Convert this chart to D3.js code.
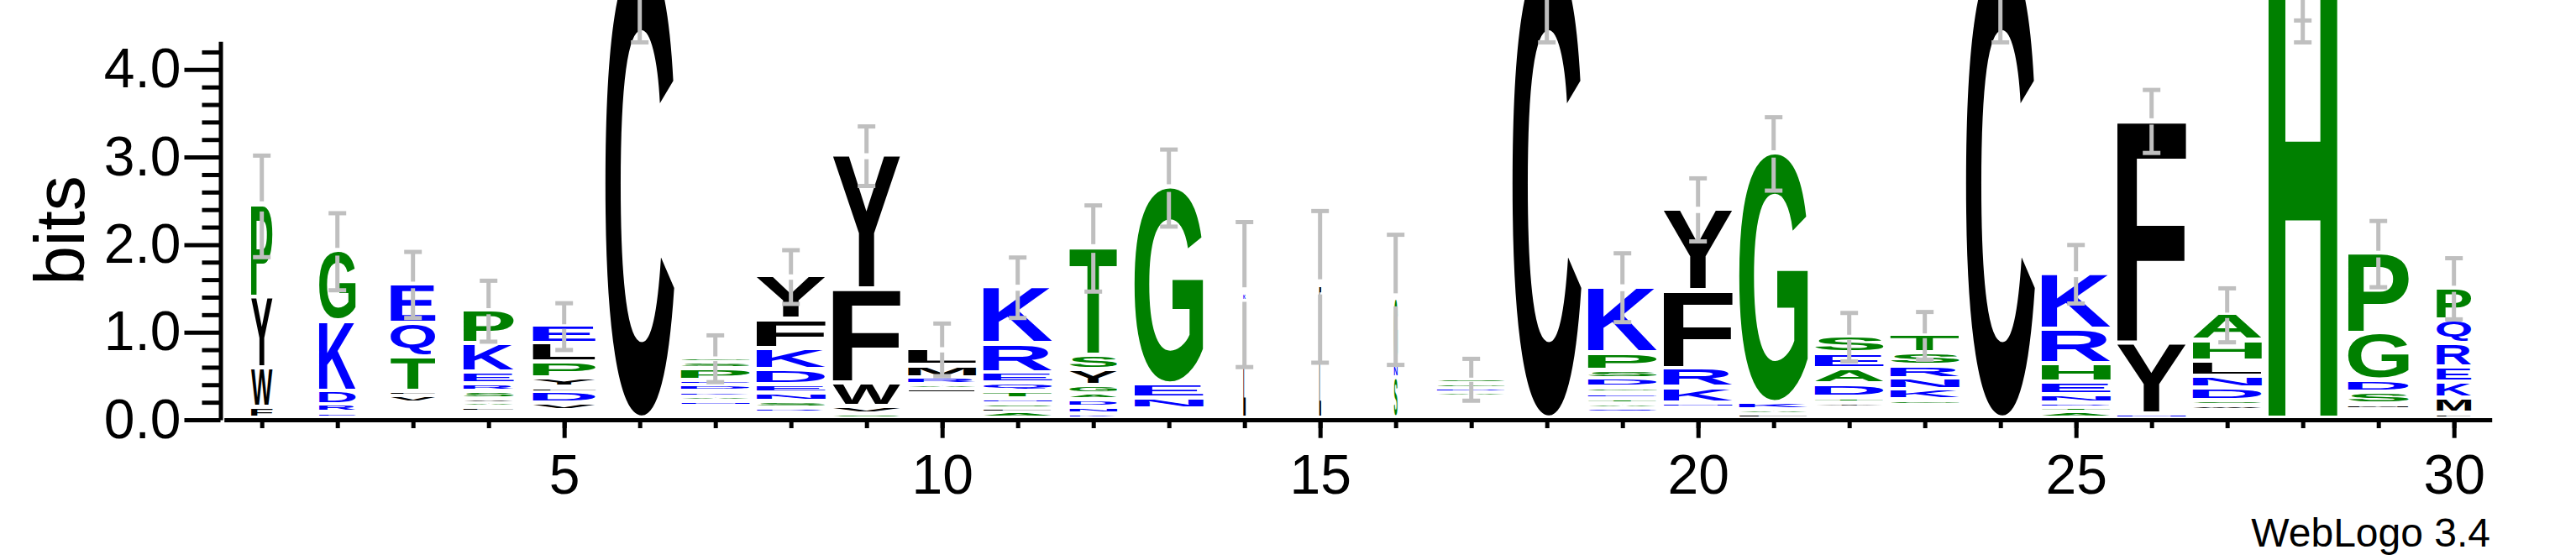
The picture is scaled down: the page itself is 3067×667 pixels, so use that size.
<!DOCTYPE html>
<html>
<head>
<meta charset="utf-8">
<script src="https://cdn.jsdelivr.net/npm/d3@7"></script>
<style>
html, body { margin: 0; padding: 0; background: #ffffff; }
svg { display: block; }
</style>
</head>
<body>
<svg id="chart" width="3067" height="667"></svg>
<script>
// ---------------- DATA ----------------
const positions = d3.range(1, 31);

// fraction of non-gap symbols (visible stack width)
const widthFraction = [0.31, 0.53, 0.65, 0.73, 0.91, 1, 1, 1, 0.98, 0.99,
                       1, 0.69, 1, 0.033, 0.025, 0.05, 1, 1, 1, 1,
                       1, 1, 1, 1, 1, 1, 1, 1, 0.88, 0.5];

// letters of each stack, bottom -> top
const stackLetters = [
  "FWYP", "ERDKG", "ASNRKDVLTQE", "GNDLAVSREKP", "ASGVDFYPLE",
  "C", "IMVLFNAKDEPSG", "GATRSNEDKFY", "SVWFY", "TGSNQDKHPFVWIARML",
  "ALSNTQERK", "KNDAGYST", "STADNEG", "LK", "LF",
  "SNG", "IVLMFWYCHKADGS", "C", "MIVQATEGDSPK", "ASTGNKRFY",
  "LAKG", "IVMLNYTDAES", "ILVMQGKNRST", "C", "ATDNEHRK",
  "NYF", "KRQWSDNLHA", "H", "ANEKMSDGP", "LMKERQP"
];

// heights in bits, bottom -> top
const stackBits = [
  [0.124, 0.449, 0.804, 1.06],
  [0.063, 0.09, 0.155, 0.803, 0.808],
  [0.03, 0.03, 0.03, 0.03, 0.025, 0.025, 0.089, 0.049, 0.396, 0.379, 0.457],
  [0.03, 0.03, 0.03, 0.038, 0.054, 0.042, 0.08, 0.089, 0.134, 0.326, 0.387],
  [0.03, 0.03, 0.03, 0.086, 0.128, 0.048, 0.105, 0.182, 0.214, 0.211],
  [5.3],
  [0.03, 0.03, 0.03, 0.03, 0.03, 0.042, 0.064, 0.048, 0.073, 0.054, 0.135, 0.073, 0.058],
  [0.025, 0.025, 0.02, 0.048, 0.074, 0.096, 0.096, 0.169, 0.246, 0.329, 0.502],
  [0.048, 0.086, 0.266, 1.077, 1.533],
  [0.025, 0.025, 0.025, 0.025, 0.025, 0.025, 0.025, 0.025, 0.025, 0.025, 0.025, 0.025, 0.036, 0.048, 0.079, 0.138, 0.198],
  [0.07, 0.048, 0.051, 0.055, 0.08, 0.096, 0.118, 0.335, 0.655],
  [0.048, 0.073, 0.087, 0.073, 0.096, 0.176, 0.166, 1.237],
  [0.03, 0.03, 0.025, 0.025, 0.12, 0.16, 2.256],
  [1.33, 0.1],
  [1.1, 0.418],
  [0.46, 0.14, 0.77],
  [0.025, 0.025, 0.025, 0.025, 0.025, 0.025, 0.025, 0.025, 0.025, 0.025, 0.047, 0.055, 0.048, 0.057],
  [5.3],
  [0.025, 0.025, 0.02, 0.048, 0.051, 0.055, 0.064, 0.064, 0.102, 0.096, 0.201, 0.757],
  [0.03, 0.03, 0.03, 0.03, 0.056, 0.176, 0.214, 0.894, 0.937],
  [0.048, 0.048, 0.08, 2.86],
  [0.026, 0.026, 0.026, 0.026, 0.026, 0.046, 0.064, 0.15, 0.176, 0.175, 0.202],
  [0.03, 0.03, 0.03, 0.03, 0.03, 0.058, 0.118, 0.128, 0.147, 0.15, 0.208],
  [5.3],
  [0.07, 0.058, 0.048, 0.096, 0.143, 0.208, 0.393, 0.646],
  [0.051, 0.808, 2.548],
  [0.03, 0.03, 0.03, 0.055, 0.061, 0.143, 0.134, 0.172, 0.232, 0.306],
  [5.3],
  [0.03, 0.03, 0.025, 0.025, 0.05, 0.134, 0.137, 0.534, 0.927],
  [0.054, 0.176, 0.179, 0.173, 0.265, 0.278, 0.371]
];

// error bar half-length in bits
const errorHalf = [0.58, 0.44, 0.377, 0.348, 0.267, 0.99, 0.267, 0.307, 0.34, 0.30,
                   0.345, 0.492, 0.44, 0.828, 0.866, 0.743, 0.239, 0.99, 0.393, 0.36,
                   0.419, 0.277, 0.272, 0.99, 0.334, 0.36, 0.308, 0.99, 0.378, 0.349];
// additional error-bar cap (bits), only where one is drawn
const extraCap = positions.map(p => p === 28 ? 4.56 : null);

const yTicksMajor = [0, 1, 2, 3, 4];
const xTickLabels = [5, 10, 15, 20, 25, 30];
const yMaxBits = Math.log2(20);

// ---------------- DRAW ----------------
const svg = d3.select('#chart');
svg.append('rect').attr('width', 3067).attr('height', 667).attr('fill', '#ffffff');

const x = d3.scaleLinear().domain([0.5, 30.5]).range([266.7, 2966.7]);
const y = d3.scaleLinear().domain([0, yMaxBits]).range([500, 500 - yMaxBits * 104.3]);

const STACK_W = 82;
const FONT = '"Liberation Sans", Arial, Helvetica, sans-serif';
const FONT_PX = 200;

const colorOf = ch => 'RKDENQ'.includes(ch) ? '#0000ff'
                   : ('SGHTAP'.includes(ch) ? '#008000' : '#000000');

const ctx = document.createElement('canvas').getContext('2d');
ctx.font = `bold ${FONT_PX}px ${FONT}`;
const cache = {};
function inkBox(ch) {
  if (!cache[ch]) {
    const m = ctx.measureText(ch);
    cache[ch] = { l: m.actualBoundingBoxLeft, r: m.actualBoundingBoxRight,
                  a: m.actualBoundingBoxAscent, d: m.actualBoundingBoxDescent };
  }
  return cache[ch];
}

const logo = svg.append('g').attr('class', 'logo');
const tops = [];
positions.forEach((p, i) => {
  const w = STACK_W * widthFraction[i];
  let base = 0;
  stackLetters[i].split('').forEach((ch, k) => {
    const h = stackBits[i][k];
    const yTop = y(base + h), yBot = y(base);
    base += h;
    const slot = yBot - yTop;
    const gap = Math.min(5, 0.75 * slot);
    const inkH = slot - gap;
    if (inkH < 0.9) return;
    const m = inkBox(ch);
    const sx = w / (m.l + m.r), sy = inkH / (m.a + m.d);
    logo.append('text')
      .text(ch)
      .attr('x', 0).attr('y', 0)
      .attr('font-family', FONT)
      .attr('font-weight', 'bold')
      .attr('font-size', FONT_PX)
      .attr('fill', colorOf(ch))
      .attr('transform', `translate(${x(p) - w / 2 + m.l * sx},${yTop + m.a * sy}) scale(${sx},${sy})`);
  });
  tops.push(base);
});

// error bars
const eb = svg.append('g').attr('class', 'errorbars')
  .attr('stroke', '#bfbfbf').attr('stroke-width', 5).attr('fill', 'none');
const CAP = 21;
positions.forEach((p, i) => {
  const t = tops[i], e = errorHalf[i], cx = x(p);
  // lower half
  eb.append('line').attr('x1', cx).attr('x2', cx).attr('y1', y(t - e)).attr('y2', y(t - 0.1 * e));
  // upper half
  eb.append('line').attr('x1', cx).attr('x2', cx).attr('y1', y(t + 0.1 * e)).attr('y2', y(t + e));
  [t - e, t + e].concat(extraCap[i] != null ? [extraCap[i]] : []).forEach(v => {
    eb.append('line').attr('x1', cx - CAP / 2).attr('x2', cx + CAP / 2).attr('y1', y(v)).attr('y2', y(v));
  });
});

// y axis
const yAxisG = svg.append('g').attr('transform', 'translate(262.5,0)');
const minorTicks = d3.range(0, 44).map(k => +(k * 0.2).toFixed(1))
  .filter(v => v <= yMaxBits && Math.abs(v - Math.round(v)) > 1e-6);
yAxisG.call(d3.axisLeft(y).tickValues(minorTicks).tickSize(22).tickSizeOuter(0).tickFormat(''));
const yMajor = yAxisG.append('g')
  .call(d3.axisLeft(y).tickValues(yTicksMajor).tickSize(43).tickSizeOuter(0).tickPadding(4).tickFormat(d3.format('.1f')));
yMajor.select('.domain').remove();

// x axis
const xAxisG = svg.append('g').attr('transform', 'translate(0,500)');
xAxisG.call(d3.axisBottom(x).tickValues(positions).tickSize(10).tickSizeOuter(0).tickFormat(''));
const xMajor = xAxisG.append('g')
  .call(d3.axisBottom(x).tickValues(xTickLabels).tickSize(21.7).tickSizeOuter(0).tickPadding(19).tickFormat(d3.format('d')));
xMajor.select('.domain').remove();

svg.selectAll('.domain').attr('stroke', '#000').attr('stroke-width', 5);
svg.selectAll('.tick line').attr('stroke', '#000').attr('stroke-width', 5);
svg.selectAll('.tick text').attr('font-family', FONT).attr('font-size', 66).attr('fill', '#000');
yAxisG.attr('font-family', FONT).attr('font-size', 66);
xAxisG.attr('font-family', FONT).attr('font-size', 66);

// axis title
svg.append('text').text('bits')
  .attr('transform', 'translate(100,274.5) rotate(-90)')
  .attr('text-anchor', 'middle')
  .attr('font-family', FONT).attr('font-size', 84).attr('fill', '#000');

// credit
svg.append('text').text('WebLogo 3.4')
  .attr('x', 2965).attr('y', 651)
  .attr('text-anchor', 'end')
  .attr('font-family', FONT).attr('font-size', 48).attr('fill', '#000');
</script>
</body>
</html>
